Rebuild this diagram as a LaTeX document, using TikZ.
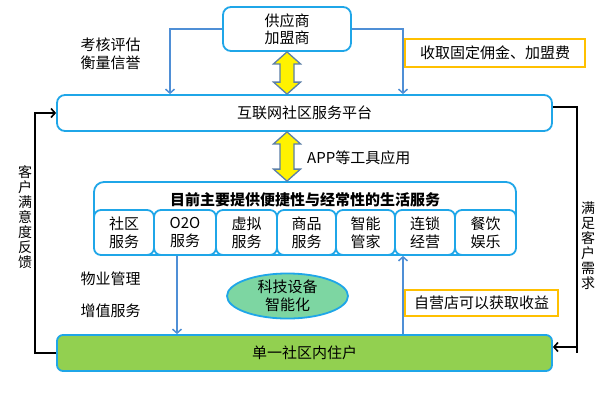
\documentclass[tikz,border=0pt]{standalone}
\usepackage{fontspec}
\setmainfont{Noto Sans CJK SC}
\usetikzlibrary{shapes.geometric,calc,arrows.meta}
\definecolor{bluebd}{HTML}{1FA6E8}
\definecolor{arrblue}{HTML}{4F8FD6}
\definecolor{grn}{HTML}{92D050}
\definecolor{ellg}{HTML}{7DD6A2}
\definecolor{orng}{HTML}{FFC000}
\definecolor{dblbd}{HTML}{5B7FA8}
\newcommand\yarrow[2]{\path[draw=dblbd,fill=yellow,line width=1.3pt,line join=miter]
 let \p1=(#1), \p2=(#2) in (\x1,\y1) -- (\x1+13.5pt,\y1-12pt) -- (\x1+7pt,\y1-12pt) -- (\x1+7pt,\y2+12pt) -- (\x1+13.5pt,\y2+12pt) -- (\x1,\y2) -- (\x1-13.5pt,\y2+12pt) -- (\x1-7pt,\y2+12pt) -- (\x1-7pt,\y1-12pt) -- (\x1-13.5pt,\y1-12pt) -- cycle;}
\begin{document}
\begin{tikzpicture}[x=1pt,y=-1pt,
  font=\fontsize{15}{18}\selectfont,
  box/.style={draw=bluebd,line width=1.8pt,rounded corners=8pt,fill=white,align=center,inner sep=0pt},
  subbox/.style={draw=bluebd,line width=1.8pt,rounded corners=7pt,fill=white,align=center,inner sep=0pt,minimum height=45pt},
  obox/.style={draw=orng,line width=1.8pt,fill=white,align=center,inner sep=0pt},
  lbl/.style={align=center,inner sep=0pt},
  barrow/.style={draw=arrblue,line width=1.5pt,-{Straight Barb[length=4pt,width=9pt]}},
  karrow/.style={draw=black,line width=1.6pt,-{Straight Barb[length=4pt,width=9pt]}},
  vtext/.style={align=center,inner sep=0pt,font=\fontsize{14}{15}\selectfont}]
\useasboundingbox[fill=white] (0,0) rectangle (602,405);

% nodes
\node[box,minimum width=128pt,minimum height=44pt,font=\fontsize{15}{16.5}\selectfont] (sup) at (287,29) {供应商\\加盟商};
\node[box,minimum width=495pt,minimum height=36pt] (plat) at (304.5,113) {互联网社区服务平台};
\node[box,rounded corners=10pt,minimum width=422pt,minimum height=73pt] (svc) at (305,218.5) {};
\node[lbl,font=\bfseries\fontsize{15}{18}\selectfont] (title) at (305,200) {目前主要提供便捷性与经常性的生活服务};
\node[subbox,minimum width=60pt] (s1) at (124,232.5) {社区\\服务};
\node[subbox,minimum width=62pt] (s2) at (185,232.5) {O2O\\服务};
\node[subbox,minimum width=61pt] (s3) at (246.5,232.5) {虚拟\\服务};
\node[subbox,minimum width=59pt] (s4) at (306.5,232.5) {商品\\服务};
\node[subbox,minimum width=59pt] (s5) at (365.5,232.5) {智能\\管家};
\node[subbox,minimum width=60pt] (s6) at (425,232.5) {连锁\\经营};
\node[subbox,minimum width=61pt] (s7) at (485.5,232.5) {餐饮\\娱乐};
\node[box,fill=grn,rounded corners=6pt,minimum width=495pt,minimum height=36pt] (home) at (304.5,353) {单一社区内住户};
\node[ellipse,draw=bluebd,line width=1.8pt,fill=ellg,minimum width=121pt,minimum height=44pt,inner sep=0pt,align=center] (tech) at (287.5,296) {科技设备\\智能化};
\node[obox,minimum width=180pt,minimum height=28pt] (fee) at (495,53) {收取固定佣金、加盟费};
\node[obox,minimum width=153pt,minimum height=26pt] (profit) at (481.5,303) {自营店可以获取收益};
\node[lbl] (eval) at (110.5,54) {考核评估\\衡量信誉};
\node[lbl] (prop) at (110.5,279) {物业管理};
\node[lbl] (vas) at (110.5,311) {增值服务};
\node[lbl,anchor=west] (app) at (307,158) {APP等工具应用};
\node[vtext] (fb) at (25,217.5) {客\\户\\满\\意\\度\\反\\馈};
\node[vtext] (need) at (588,246) {满\\足\\客\\户\\需\\求};

% helper coordinates
\coordinate (lx) at (170,0);
\coordinate (rx) at (403,0);
\coordinate (dx) at (177,0);
\coordinate (ux) at (403,0);
\coordinate (lb) at (35,0);
\coordinate (rb) at (577,0);

% connectors
\draw[barrow] (sup.west) -| (plat.north -| lx);
\draw[barrow] (sup.east) -| (plat.north -| rx);
\draw[barrow] (s2.south -| dx) -- (home.north -| dx);
\draw[barrow] (home.north -| ux) -- (s6.south -| ux);
\draw[karrow] (home.west) -| (lb |- plat.west) -- (plat.west);
\draw[karrow] ($(plat.east)+(0,-6)$) -| (rb |- home.east) ++(0,-6) -- ($(home.east)+(0,-6)$);
\yarrow{sup.south}{plat.north -| sup.south}
\yarrow{plat.south -| sup.south}{svc.north -| sup.south}
\end{tikzpicture}
\end{document}
